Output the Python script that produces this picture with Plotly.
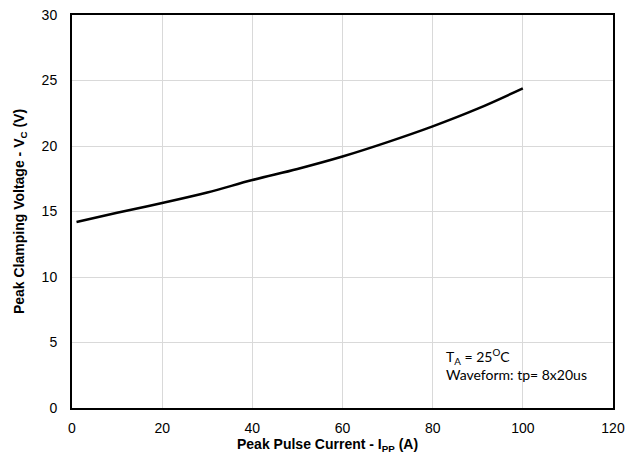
import plotly.graph_objects as go

current_a = [1, 10, 20, 30, 40, 50, 60, 70, 80, 90, 100]
clamp_v = [14.2, 14.9, 15.65, 16.45, 17.4, 18.25, 19.2, 20.3, 21.5, 22.85, 24.4]

x_ticks = [0, 20, 40, 60, 80, 100, 120]
y_ticks = [0, 5, 10, 15, 20, 25, 30]

FONT = "Liberation Sans"

fig = go.Figure()
fig.add_trace(go.Scatter(x=current_a, y=clamp_v, mode="lines",
                         line=dict(color="black", width=2.5, shape="spline"),
                         showlegend=False))

axis_common = dict(showgrid=True, gridcolor="#d9d9d9", gridwidth=1,
                   showline=True, linecolor="black", linewidth=2, mirror=True,
                   zeroline=False, ticks="", automargin=False,
                   ticklabeloverflow="allow",
                   tickfont=dict(family=FONT, size=14, color="black"))

fig.update_xaxes(range=[0, 120], tickvals=x_ticks, ticklabelstandoff=6,
                 **axis_common)
fig.update_yaxes(range=[0, 30], tickvals=y_ticks, ticklabelstandoff=10,
                 title=dict(text="<b>Peak Clamping Voltage - V<sub>C</sub> (V)</b>",
                            font=dict(family=FONT, size=14, color="black"),
                            standoff=14),
                 **axis_common)

fig.add_annotation(xref="paper", yref="paper", x=0.473, y=-0.095, xanchor="center", yanchor="middle",
                   showarrow=False,
                   text="<b>Peak Pulse Current - I<sub>PP</sub> (A)</b>",
                   font=dict(family=FONT, size=14, color="black"))

fig.add_annotation(xref="paper", yref="paper", x=0.688, y=0.163, xanchor="left", yanchor="top",
                   align="left", showarrow=False,
                   text="T<sub>A</sub> = 25<sup>O</sup>C<br>Waveform: tp= 8x20us",
                   font=dict(family="Lato", size=14, color="black"))

fig.update_layout(width=628, height=461, margin=dict(l=72, r=15, t=15, b=53),
                  plot_bgcolor="white", paper_bgcolor="white",
                  font=dict(family=FONT))

fig.write_html("out.html")
